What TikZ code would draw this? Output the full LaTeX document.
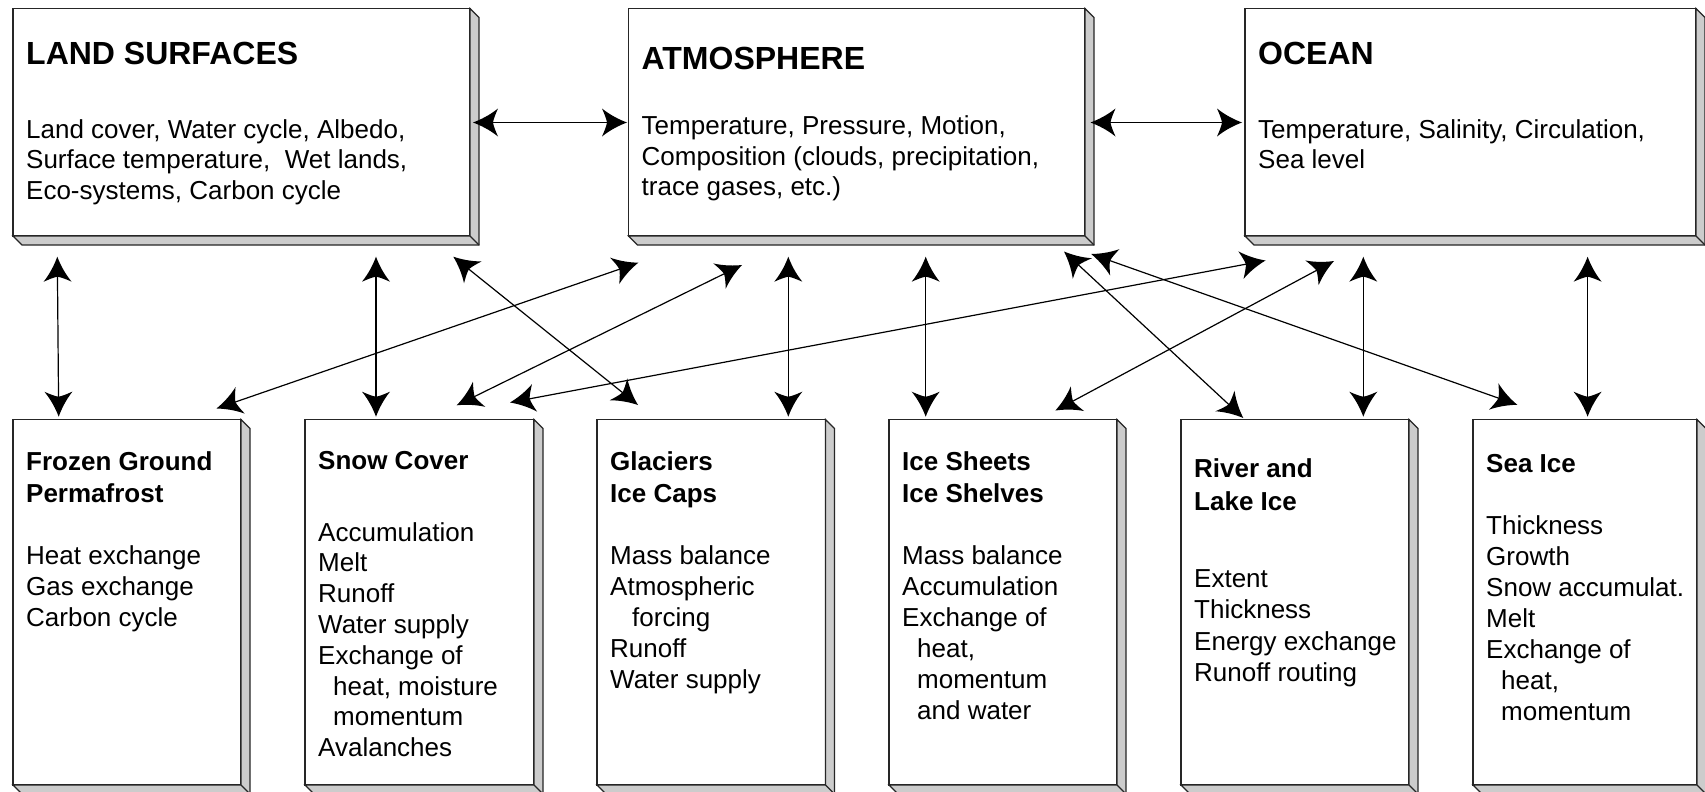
\documentclass[tikz,border=0pt]{standalone}
\usepackage{fontspec}
\setmainfont{Liberation Sans}
\usetikzlibrary{arrows.meta,calc}
\pgfdeclarearrow{
  name = Cusp,
  parameters = {\the\pgfarrowlength,\the\pgfarrowwidth},
  setup code = {
    \pgfarrowssettipend{0pt}
    \pgfarrowssetbackend{-\pgfarrowlength}
    \pgfarrowssetlineend{-.6\pgfarrowlength}
    \pgfarrowssavethe\pgfarrowlength
    \pgfarrowssavethe\pgfarrowwidth
  },
  drawing code = {
    \pgfpathmoveto{\pgfqpoint{0pt}{0pt}}
    \pgfpathcurveto{\pgfqpoint{-.3\pgfarrowlength}{.1\pgfarrowwidth}}{\pgfqpoint{-.65\pgfarrowlength}{.25\pgfarrowwidth}}{\pgfqpoint{-\pgfarrowlength}{.5\pgfarrowwidth}}
    \pgfpathcurveto{\pgfqpoint{-.9\pgfarrowlength}{.3\pgfarrowwidth}}{\pgfqpoint{-.82\pgfarrowlength}{.12\pgfarrowwidth}}{\pgfqpoint{-.8\pgfarrowlength}{0pt}}
    \pgfpathcurveto{\pgfqpoint{-.82\pgfarrowlength}{-.12\pgfarrowwidth}}{\pgfqpoint{-.9\pgfarrowlength}{-.3\pgfarrowwidth}}{\pgfqpoint{-\pgfarrowlength}{-.5\pgfarrowwidth}}
    \pgfpathcurveto{\pgfqpoint{-.65\pgfarrowlength}{-.25\pgfarrowwidth}}{\pgfqpoint{-.3\pgfarrowlength}{-.1\pgfarrowwidth}}{\pgfqpoint{0pt}{0pt}}
    \pgfpathclose
    \pgfusepathqfill
  },
  defaults = {length = 25pt, width = 28pt}
}
\tikzset{
  box/.style={draw=black!85, line width=1.2pt, fill=white, inner sep=0pt, outer sep=0pt, anchor=north west},
  bevel/.style={draw=black!85, line width=1.2pt, fill=black!20, line join=miter},
  conn/.style={line width=1.2pt, {Cusp[length=25pt,width=28pt]}-{Cusp[length=25pt,width=28pt]}},
  ttl/.style={font=\fontsize{32}{36}\selectfont\bfseries, anchor=base west, inner sep=0pt},
  stl/.style={font=\fontsize{26}{31}\selectfont\bfseries, anchor=base west, inner sep=0pt},
  txt/.style={font=\fontsize{26}{31}\selectfont, anchor=base west, inner sep=0pt},
}
\newcommand\cryobox[5]{%
  \node[box, minimum width=#4pt, minimum height=#5pt] (#1) at (#2,#3) {};
  \filldraw[bevel] (#1.north east) -- ++(9,9) -- ($(#1.south east)+(9,9)$) -- ($(#1.south west)+(9,9)$) -- (#1.south west) -- (#1.south east) -- cycle;
  \draw[bevel,fill=none] (#1.south east) -- ++(9,9);
}
\newcommand\textlines[6]{%
  \foreach \t [count=\i from 0] in {#6} {
    \node[#2, name=#1\i] at (#3, #4+\i*#5) {\t};
  }
}
\begin{document}
\begin{tikzpicture}[x=1pt,y=-1pt]
\useasboundingbox (0,0) rectangle (1705,792);
% top boxes
\cryobox{land}{13}{8.5}{457}{227.5}
\cryobox{atmos}{628.5}{8.5}{456.5}{227.5}
\cryobox{ocean}{1245}{8.5}{451}{227.5}
% bottom boxes
\cryobox{frozen}{13}{419.5}{228}{365.5}
\cryobox{snow}{305}{419.5}{229}{365.5}
\cryobox{glac}{597}{419.5}{228.5}{365.5}
\cryobox{sheets}{889}{419.5}{228}{365.5}
\cryobox{river}{1181}{419.5}{228}{365.5}
\cryobox{seaice}{1473}{419.5}{224}{365.5}
% top texts
\node[ttl] (landT) at (26,65) {LAND SURFACES};
\textlines{landB}{txt}{26}{138}{30.5}{{Land cover, Water cycle, Albedo,},{Surface temperature,\ \ Wet lands,},{Eco-systems, Carbon cycle}}
\node[ttl] (atmosT) at (641.5,69.5) {ATMOSPHERE};
\textlines{atmosB}{txt}{641.5}{134.5}{30.5}{{Temperature, Pressure, Motion,},{Composition (clouds, precipitation,},{trace gases, etc.)}}
\node[ttl] (oceanT) at (1258,65) {OCEAN};
\textlines{oceanB}{txt}{1258}{138}{30.5}{{Temperature, Salinity, Circulation,},{Sea level}}
% bottom texts
\textlines{frozenT}{stl}{26}{470.5}{31.5}{{Frozen Ground},{Permafrost}}
\textlines{frozenB}{txt}{26}{564}{31}{{Heat exchange},{Gas exchange},{Carbon cycle}}
\node[stl] (snowT) at (318,469.5) {Snow Cover};
\textlines{snowB}{txt}{318}{541}{30.8}{{Accumulation},{Melt},{Runoff},{Water supply},{Exchange of},{\hspace{15pt}heat, moisture},{\hspace{15pt}momentum},{Avalanches}}
\textlines{glacT}{stl}{610}{470.5}{31.5}{{Glaciers},{Ice Caps}}
\textlines{glacB}{txt}{610}{564}{31}{{Mass balance},{Atmospheric},{\hspace{22pt}forcing},{Runoff},{Water supply}}
\textlines{sheetsT}{stl}{902}{470.5}{31.5}{{Ice Sheets},{Ice Shelves}}
\textlines{sheetsB}{txt}{902}{564}{31}{{Mass balance},{Accumulation},{Exchange of},{\hspace{15pt}heat,},{\hspace{15pt}momentum},{\hspace{15pt}and water}}
\textlines{riverT}{stl}{1194}{477}{33}{{River and},{Lake Ice}}
\textlines{riverB}{txt}{1194}{587}{31.5}{{Extent},{Thickness},{Energy exchange},{Runoff routing}}
\node[stl] (seaiceT) at (1486,472) {Sea Ice};
\textlines{seaiceB}{txt}{1486}{534}{31}{{Thickness},{Growth},{Snow accumulat.},{Melt},{Exchange of},{\hspace{15pt}heat,},{\hspace{15pt}momentum}}
% connector end points
\coordinate (land-e) at (473,122.5);
\coordinate (atmos-w) at (627,122.5);
\coordinate (atmos-e) at (1090.5,122.5);
\coordinate (ocean-w) at (1242,122.5);
\coordinate (land-s1) at (57.3,256.7);   \coordinate (frozen-n1) at (58.7,416.7);
\coordinate (land-s2) at (376,256.7);    \coordinate (snow-n1) at (376,416.7);
\coordinate (atmos-s1) at (788.3,256.7); \coordinate (glac-n1) at (788.3,416.7);
\coordinate (atmos-s2) at (925.7,256.7); \coordinate (sheets-n1) at (925.7,416.7);
\coordinate (ocean-s1) at (1363.3,256.7); \coordinate (river-n1) at (1363.3,416.7);
\coordinate (ocean-s2) at (1587.6,256.7); \coordinate (seaice-n1) at (1587.6,416.7);
\coordinate (land-s3) at (453.3,256.7);  \coordinate (glac-n2) at (638,405);
\coordinate (atmos-s3) at (638.3,262.7); \coordinate (frozen-n2) at (216.5,408.5);
\coordinate (atmos-s4) at (742,265);     \coordinate (snow-n2) at (456.7,405.3);
\coordinate (ocean-s3) at (1265.5,260.5); \coordinate (snow-n3) at (510,402.5);
\coordinate (atmos-s5) at (1064,251.5);  \coordinate (river-n2) at (1243.3,418);
\coordinate (atmos-s6) at (1091.2,254);  \coordinate (seaice-n2) at (1517.3,404.8);
\coordinate (ocean-s4) at (1334,261);    \coordinate (sheets-n2) at (1055.4,410.5);
% connectors
\draw[conn] (land-e) -- (atmos-w);
\draw[conn] (atmos-e) -- (ocean-w);
\draw[conn] (land-s1) -- (frozen-n1);
\draw[conn] (land-s2) -- (snow-n1);
\draw[conn] (atmos-s1) -- (glac-n1);
\draw[conn] (atmos-s2) -- (sheets-n1);
\draw[conn] (ocean-s1) -- (river-n1);
\draw[conn] (ocean-s2) -- (seaice-n1);
\draw[conn] (land-s3) -- (glac-n2);
\draw[conn] (atmos-s3) -- (frozen-n2);
\draw[conn] (atmos-s4) -- (snow-n2);
\draw[conn] (ocean-s3) -- (snow-n3);
\draw[conn] (atmos-s5) -- (river-n2);
\draw[conn] (atmos-s6) -- (seaice-n2);
\draw[conn] (ocean-s4) -- (sheets-n2);
\end{tikzpicture}
\end{document}
